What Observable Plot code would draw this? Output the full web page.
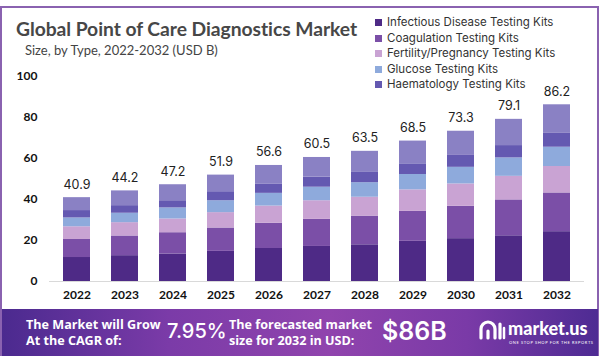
<!DOCTYPE html>
<html>
<head>
<meta charset="utf-8">
<script src="https://cdn.jsdelivr.net/npm/d3@7"></script>
<script src="https://cdn.jsdelivr.net/npm/@observablehq/plot@0.6"></script>
<style>
  html, body { margin: 0; padding: 0; background: #fff; }
  #wrap { position: relative; width: 602px; height: 362px; overflow: hidden; background: #fff; font-family: Lato, "Open Sans", sans-serif; }
  #frame { position: absolute; left: 0px; top: 6px; width: 599px; height: 350px; border: 2px solid #8a62b0; border-bottom: none; box-sizing: border-box; }
  #title { position: absolute; left: 16px; top: 17px; font-family: Lato, sans-serif; font-weight: 700; font-size: 19.3px; color: #474747; white-space: nowrap; letter-spacing: -0.05px; }
  #subtitle { position: absolute; left: 25px; top: 42px; font-family: Lato, sans-serif; font-size: 13px; color: #444; white-space: nowrap; }
  #legend { position: absolute; left: 375px; top: 15px; font-family: Inter, "Noto Sans", sans-serif; font-size: 11.5px; color: #333; }
  #legend .row { height: 15.5px; line-height: 15.5px; white-space: nowrap; display: flex; align-items: center; }
  #legend .sw { width: 7px; height: 7px; margin-right: 5px; display: inline-block; }
  #chart { position: absolute; left: 0; top: 60px; }
  #footer { position: absolute; left: 2px; top: 309px; width: 596px; height: 47px;
    background: linear-gradient(90deg, #4b2a8f 0%, #7b3ba8 28%, #9044ad 55%, #7a3aa7 78%, #4e2b93 100%); color: #fff; }
  .f1 { position: absolute; left: 24px; top: 8px; font-family: "Open Sans", sans-serif; font-weight: 700; font-size: 12.6px; line-height: 15.5px; white-space: nowrap; }
  .f2 { position: absolute; left: 165px; top: 9px; font-family: Inter, sans-serif; font-weight: 500; font-size: 20px; line-height: 26px; }
  .f3 { position: absolute; left: 227px; top: 8px; font-family: "Open Sans", sans-serif; font-weight: 700; font-size: 12.6px; line-height: 15.5px; white-space: nowrap; }
  .f4 { position: absolute; left: 380px; top: 6px; font-family: Inter, sans-serif; font-weight: 600; font-size: 25px; line-height: 32px; }
  .logo { position: absolute; left: 476px; top: 9px; }
  .logotext { position: absolute; left: 506px; top: 9px; font-family: Lato, sans-serif; font-weight: 900; font-size: 18px; line-height: 20px; }
  .tag { position: absolute; left: 507px; top: 31px; font-family: Lato, sans-serif; font-size: 4px; letter-spacing: 0.6px; line-height: 5px; white-space: nowrap; }
</style>
</head>
<body>
<div id="wrap">
  <div id="frame"></div>
  <div id="title">Global Point of Care Diagnostics Market</div>
  <div id="subtitle">Size, by Type, 2022-2032 (USD B)</div>
  <div id="legend"></div>
  <div id="chart"></div>
  <div id="footer">
    <div class="f1">The Market will Grow<br>At the CAGR of:</div>
    <div class="f2">7.95%</div>
    <div class="f3">The forecasted market<br>size for 2032 in USD:</div>
    <div class="f4">$86B</div>
    <svg class="logo" width="28" height="24" viewBox="0 0 28 24">
      <path d="M3 20 V11 a7 7 0 0 1 14 0 V20" fill="none" stroke="#fff" stroke-width="3.2" stroke-linecap="round"/>
      <path d="M10 20 V13" stroke="#fff" stroke-width="3.2" stroke-linecap="round"/>
      <path d="M22 20 V6" stroke="#fff" stroke-width="3.2" stroke-linecap="round"/>
      <path d="M26 20 V10" stroke="#fff" stroke-width="2.5" stroke-linecap="round"/>
    </svg>
    <div class="logotext">market.us</div>
    <div class="tag">ONE STOP SHOP FOR THE REPORTS</div>
  </div>
</div>
<script>
const years = ["2022","2023","2024","2025","2026","2027","2028","2029","2030","2031","2032"];
const infectious  = [11.7,12.6,13.4,14.7,16.1,17.1,17.9,19.6,20.9,22.3,24.3];
const coagulation = [8.8,9.6,10.4,11.4,12.3,13.2,14.0,14.6,15.8,17.5,18.9];
const fertility   = [6.2,6.5,6.7,7.5,8.4,9.1,9.2,10.5,10.9,11.5,12.9];
const glucose     = [4.3,4.6,5.4,5.8,6.2,6.6,7.1,7.5,8.1,9.0,9.4];
const haematology = [3.6,3.7,3.5,4.4,4.6,4.9,5.3,5.2,5.8,6.0,7.0];
const others      = [6.3,7.2,7.8,8.1,9.0,9.6,10.0,11.1,11.8,12.8,13.7];
const totals      = [40.9,44.2,47.2,51.9,56.6,60.5,63.5,68.5,73.3,79.1,86.2];
const seriesNames = ["Infectious Disease Testing Kits","Coagulation Testing Kits","Fertility/Pregnancy Testing Kits","Glucose Testing Kits","Haematology Testing Kits","Others"];
const legendNames = seriesNames.slice(0, 5);
const colors = ["#4e2a86","#7b4fa7","#c9a3d3","#8eaadc","#6459b1","#8a81c4"];
const yTicks = [0,20,40,60,80,100];

const seriesValues = [infectious, coagulation, fertility, glucose, haematology, others];
const rows = [];
seriesNames.forEach((s, si) => years.forEach((y, i) => rows.push({year: y, series: s, value: seriesValues[si][i]})));
const totalRows = years.map((y, i) => ({year: y, total: totals[i]}));

const chart = Plot.plot({
  width: 602,
  height: 245,
  marginTop: 16,
  marginBottom: 24,
  marginLeft: 49,
  marginRight: 18,
  style: {background: "transparent", fontFamily: "Lato, sans-serif"},
  x: {domain: years, paddingInner: 0.44, paddingOuter: 0.2, label: null, tickSize: 0, tickPadding: 9},
  y: {domain: [0, 100], ticks: yTicks, label: null, tickSize: 0, tickPadding: 12},
  color: {domain: seriesNames, range: colors},
  marks: [
    Plot.ruleY([0], {stroke: "#d9d9d9", strokeWidth: 1}),
    Plot.barY(rows, {x: "year", y: "value", fill: "series", order: seriesNames}),
    Plot.text(totalRows, {x: "year", y: "total", text: d => d.total.toFixed(1), dy: -13, fontSize: 12.5, fill: "#222", fontFamily: "Inter, sans-serif"})
  ]
});
chart.querySelectorAll("g[aria-label='x-axis tick label'] text, g[aria-label='y-axis tick label'] text").forEach(t => {
  t.setAttribute("font-weight", "700");
  t.setAttribute("font-size", "12");
  t.setAttribute("fill", "#111");
});
chart.querySelectorAll("g[aria-label='x-axis tick label'], g[aria-label='y-axis tick label']").forEach(g => {
  g.setAttribute("font-size", "12");
  g.setAttribute("font-weight", "700");
});
document.getElementById("chart").appendChild(chart);

const legend = document.getElementById("legend");
legendNames.forEach((n, i) => {
  const r = document.createElement("div");
  r.className = "row";
  r.innerHTML = `<span class="sw" style="background:${colors[i]}"></span><span>${n}</span>`;
  legend.appendChild(r);
});
</script>
</body>
</html>
